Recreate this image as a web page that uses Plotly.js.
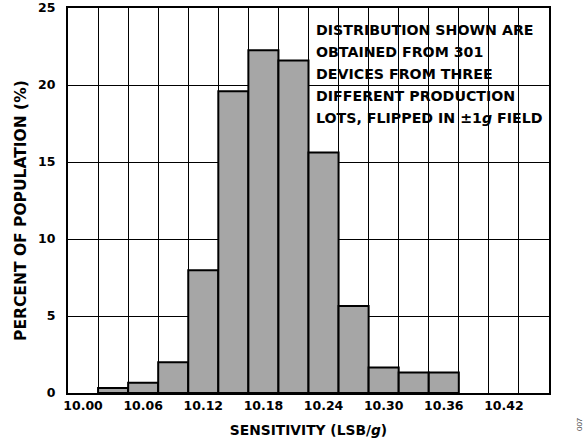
<!DOCTYPE html>
<html>
<head>
<meta charset="utf-8">
<script src="https://cdn.plot.ly/plotly-3.0.1.min.js"></script>
<style>html,body{margin:0;padding:0;background:#fff;}#chart{width:587px;height:446px;}</style>
</head>
<body>
<div id="chart"></div>
<script>
// Bin centres (LSB/g) and percent of population
const sensitivity = [10.03, 10.06, 10.09, 10.12, 10.15, 10.18, 10.21, 10.24, 10.27, 10.30, 10.33, 10.36];
const percent = [0.33, 0.66, 1.99, 7.97, 19.60, 22.26, 21.59, 15.61, 5.65, 1.66, 1.33, 1.33];
const xTickVals = [10.00, 10.06, 10.12, 10.18, 10.24, 10.30, 10.36, 10.42];
const xTickText = ["10.00", "10.06", "10.12", "10.18", "10.24", "10.30", "10.36", "10.42"];
const yTickVals = [0, 5, 10, 15, 20, 25];
const binWidth = 0.03;
const xRange = [9.985, 10.465];
const noteLines = ["DISTRIBUTION SHOWN ARE", "OBTAINED FROM 301", "DEVICES FROM THREE", "DIFFERENT PRODUCTION", "LOTS, FLIPPED IN \u00b11<i>g</i> FIELD"];

const font = "DejaVu Sans, Liberation Sans, Arial, sans-serif";
const fs = 13;

const trace = {
  type: "bar",
  x: sensitivity,
  y: percent,
  width: binWidth,
  marker: {color: "#a6a6a6", line: {color: "#000", width: 2}},
  hoverinfo: "x+y"
};

// note box geometry (paper coordinates)
const noteX = 0.512, noteTop = 0.943, noteStep = 0.0571;
const noteAnnots = noteLines.map((t, i) => ({
  xref: "paper", yref: "paper",
  x: noteX, y: noteTop - i * noteStep, xanchor: "left", yanchor: "middle",
  align: "left", showarrow: false, text: t,
  font: {family: font, size: 14.2, weight: 700, color: "#000"}
}));

const layout = {
  width: 587, height: 446,
  margin: {l: 68, r: 38, t: 8, b: 53},
  paper_bgcolor: "#fff", plot_bgcolor: "#fff",
  showlegend: false,
  font: {family: font, color: "#000", size: fs, weight: 700},
  xaxis: {
    range: xRange,
    tickvals: xTickVals, ticktext: xTickText,
    showgrid: false, zeroline: false,
    ticks: "", ticklen: 0,
    tickfont: {family: font, size: 12.5, weight: 700, color: "#000"},
    showline: true, linecolor: "#000", linewidth: 2, mirror: true,
    minor: {tick0: 9.985, dtick: binWidth, showgrid: true, gridcolor: "#000", gridwidth: 1, ticks: ""},
    title: {text: "SENSITIVITY (LSB/<i>g</i>)", font: {family: font, size: 13.8, weight: 700, color: "#000"}, standoff: 13}
  },
  yaxis: {
    range: [0, 25.001],
    tickvals: yTickVals,
    showgrid: true, gridcolor: "#000", gridwidth: 1,
    zeroline: false, ticks: "",
    tickfont: {family: font, size: 12.5, weight: 700, color: "#000"},
    showline: true, linecolor: "#000", linewidth: 2, mirror: true,
    ticklabelstandoff: 8
  },
  shapes: [
    {type: "rect", xref: "paper", yref: "paper", x0: 0.509, x1: 0.992, y0: 0.704, y1: 0.982,
     fillcolor: "#fff", line: {width: 0}, layer: "between"}
  ],
  annotations: noteAnnots.concat([
    {
      xref: "paper", yref: "paper",
      x: -0.0977, y: 0.473, xanchor: "center", yanchor: "middle",
      showarrow: false, textangle: -90,
      text: "PERCENT OF POPULATION (%)",
      font: {family: font, size: 15.5, weight: 700, color: "#000"}
    },
    {
      xref: "paper", yref: "paper",
      x: 1.065, y: -0.08, xanchor: "center", yanchor: "middle",
      showarrow: false, textangle: -90,
      text: "007",
      font: {family: "Liberation Sans, Arial, sans-serif", size: 8, weight: 400, color: "#444"}
    }
  ])
};

Plotly.newPlot("chart", [trace], layout, {displayModeBar: false, staticPlot: true});
</script>
</body>
</html>
